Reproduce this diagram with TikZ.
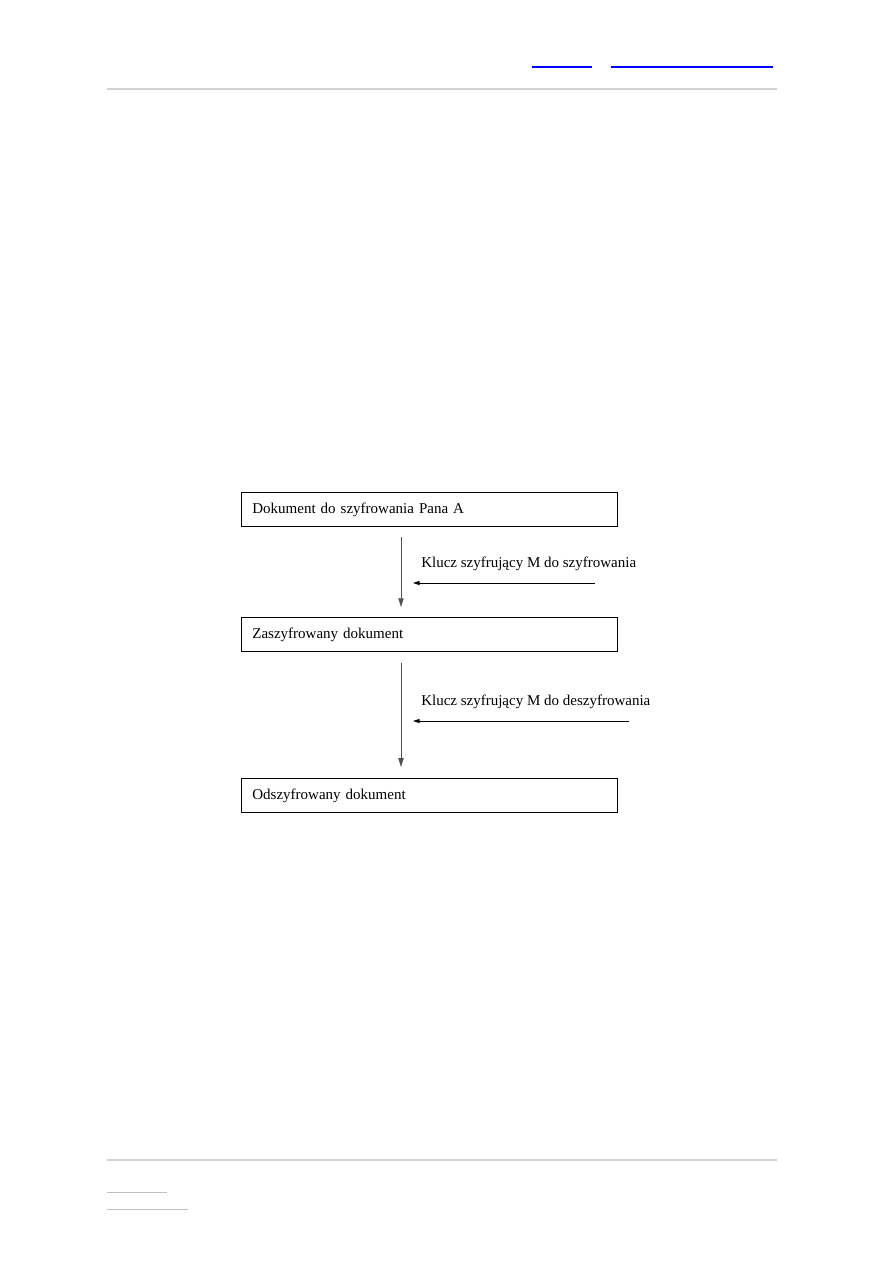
\documentclass[tikz,border=0pt]{standalone}
\usepackage{fontspec}
\setmainfont{Liberation Serif}
\usetikzlibrary{arrows.meta,positioning,calc}
\definecolor{rulegray}{HTML}{D2D2D2}
\definecolor{notegray}{HTML}{C0C0C0}
\definecolor{linkblue}{HTML}{0000FF}
\definecolor{stemgray}{HTML}{505050}

\begin{document}
\begin{tikzpicture}[x=0.75pt,y=-0.75pt,
    doc/.style={rectangle, draw=black, line width=0.6pt, anchor=north west,
                text width=265.5pt, inner xsep=8.25pt, inner ysep=0pt,
                minimum height=25.6pt, align=left,
                font=\fontsize{11.25}{13}\selectfont},
    flow/.style={draw=stemgray, line width=0.6pt, -{Triangle[length=6.5pt,width=4pt]}},
    key/.style={draw=black, line width=0.7pt, -{Triangle[length=5pt,width=3pt]}},
    keytext/.style={anchor=base west, inner sep=0pt, font=\fontsize{11.25}{13}\selectfont},
]
\useasboundingbox (0,0) rectangle (893,1263);

% page frame
\draw[linkblue, line width=1.5pt] (532,67) -- (592,67);
\draw[linkblue, line width=1.5pt] (611,67) -- (773,67);
\draw[rulegray, line width=1.5pt] (107,89) -- (777,89);
\draw[rulegray, line width=1.5pt] (107,1160) -- (777,1160);
\draw[notegray, line width=0.75pt] (107,1192) -- (167,1192);
\draw[notegray, line width=0.75pt] (107,1209) -- (188,1209);

% documents
\node[doc] (plain) at (241,492) {Dokument do szyfrowania Pana A};
\node[doc, below=67.5pt of plain.south west, anchor=north west] (enc) {Zaszyfrowany dokument};
\node[doc, below=94.5pt of enc.south west, anchor=north west] (dec) {Odszyfrowany dokument};

% flow between documents
\coordinate (s1) at ($(plain.south west)+(160,10)$);
\coordinate (e1) at ($(enc.north west)+(160,-10)$);
\coordinate (s2) at ($(enc.south west)+(160,11)$);
\coordinate (e2) at ($(dec.north west)+(160,-11)$);
\draw[flow] (s1) -- (e1);
\draw[flow] (s2) -- (e2);

% keys
\node[keytext] (kenc) at (421,567) {Klucz szyfrujący M do szyfrowania};
\node[keytext] (kdec) at (421,705) {Klucz szyfrujący M do deszyfrowania};
\coordinate (k1) at (595,583);
\coordinate (t1) at (413,583);
\coordinate (k2) at (629,721);
\coordinate (t2) at (413,721);
\draw[key] (k1) -- (t1);
\draw[key] (k2) -- (t2);

\end{tikzpicture}
\end{document}
